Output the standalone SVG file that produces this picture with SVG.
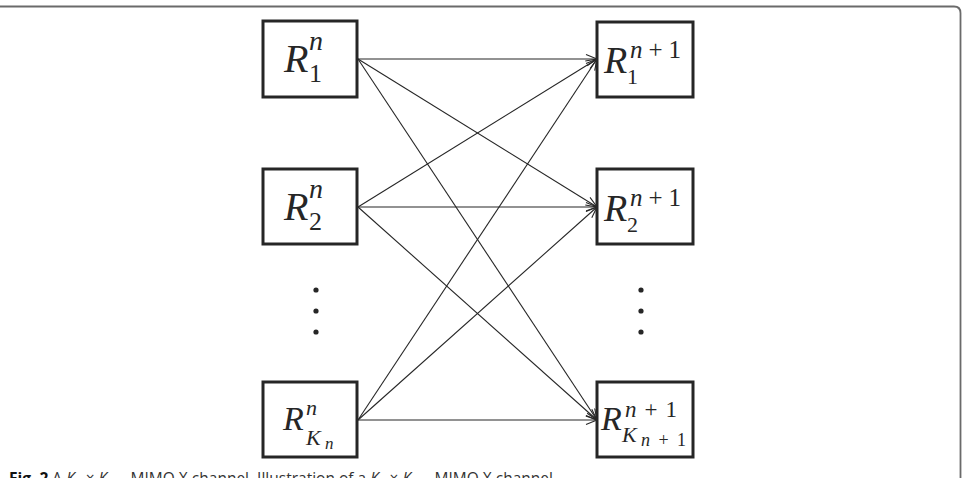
<svg xmlns="http://www.w3.org/2000/svg" width="962" height="478" viewBox="0 0 962 478">
<style>
.box{fill:#fff;stroke:#262626;stroke-width:3}
.m{font-family:"Liberation Serif",serif;font-style:italic;fill:#262626}
.d{font-family:"Liberation Serif",serif;font-style:normal;fill:#262626}
.ln{stroke:#262626;stroke-width:1.1;fill:none;marker-end:url(#ah)}
.cap{font-family:"Open Sans",sans-serif;font-size:15.5px;fill:#333}
</style>
<defs>
<marker id="ah" markerUnits="userSpaceOnUse" markerWidth="14" markerHeight="12" refX="12" refY="5" orient="auto">
<path d="M1,0.5 L12,5 L1,9.5" fill="none" stroke="#262626" stroke-width="1.1"/>
</marker>
</defs>
<path d="M0,6.5 H954 Q960.5,6.5 960.5,13 V478" fill="none" stroke="#6a6a6a" stroke-width="1.8"/>
<g id="connectors">
<line class="ln" x1="358" y1="59" x2="597" y2="59"/>
<line class="ln" x1="358" y1="59" x2="597" y2="207"/>
<line class="ln" x1="358" y1="59" x2="597" y2="420"/>
<line class="ln" x1="358" y1="207" x2="597" y2="59"/>
<line class="ln" x1="358" y1="207" x2="597" y2="207"/>
<line class="ln" x1="358" y1="207" x2="597" y2="420"/>
<line class="ln" x1="358" y1="420" x2="597" y2="59"/>
<line class="ln" x1="358" y1="420" x2="597" y2="207"/>
<line class="ln" x1="358" y1="420" x2="597" y2="420"/>
</g>
<g id="L1">
<rect class="box" x="263" y="21" width="94" height="76"/>
<text class="m" x="284" y="72" font-size="40">R</text>
<text class="m" x="309" y="50" font-size="28">n</text>
<text class="d" x="309" y="82" font-size="26">1</text>
</g>
<g id="L2">
<rect class="box" x="263" y="169" width="94" height="75"/>
<text class="m" x="284" y="220" font-size="40">R</text>
<text class="m" x="309" y="198" font-size="28">n</text>
<text class="d" x="309" y="230" font-size="26">2</text>
</g>
<g id="LK">
<rect class="box" x="263" y="382" width="94" height="75"/>
<text class="m" x="283" y="430" font-size="34">R</text>
<text class="m" x="306" y="415" font-size="22">n</text>
<text class="m" x="306" y="445" font-size="22">K</text>
<text class="m" x="325" y="449" font-size="17">n</text>
</g>
<g id="R1">
<rect class="box" x="597" y="22" width="96" height="75"/>
<text class="m" x="604" y="73" font-size="38">R</text>
<text x="630" y="58" font-size="25" textLength="51" lengthAdjust="spacing"><tspan class="m">n</tspan><tspan class="d">+1</tspan></text>
<text class="d" x="627" y="84" font-size="22">1</text>
</g>
<g id="R2">
<rect class="box" x="597" y="169" width="96" height="75"/>
<text class="m" x="604" y="221" font-size="38">R</text>
<text x="630" y="206" font-size="25" textLength="51" lengthAdjust="spacing"><tspan class="m">n</tspan><tspan class="d">+1</tspan></text>
<text class="d" x="627" y="232" font-size="22">2</text>
</g>
<g id="RK">
<rect class="box" x="597" y="382" width="96" height="75"/>
<text class="m" x="601" y="430" font-size="34">R</text>
<text x="625" y="417" font-size="23" textLength="52" lengthAdjust="spacing"><tspan class="m">n</tspan><tspan class="d">+1</tspan></text>
<text class="m" x="622" y="442" font-size="22">K</text>
<text x="641" y="446" font-size="18" textLength="45" lengthAdjust="spacing"><tspan class="m">n</tspan><tspan class="d">+1</tspan></text>
</g>
<g id="dotsL" fill="#262626">
<circle cx="316" cy="290" r="2.6"/>
<circle cx="316" cy="311" r="2.6"/>
<circle cx="316" cy="332" r="2.6"/>
</g>
<g id="dotsR" fill="#262626">
<circle cx="641" cy="290" r="2.6"/>
<circle cx="641" cy="311" r="2.6"/>
<circle cx="641" cy="332" r="2.6"/>
</g>
<text class="cap" x="9" y="483.5"><tspan font-weight="bold" fill="#111">Fig. 2</tspan> A <tspan font-style="italic">K</tspan><tspan font-size="11" dy="2">n</tspan><tspan dy="-2"> × </tspan><tspan font-style="italic">K</tspan><tspan font-size="11" dy="2">n+1</tspan><tspan dy="-2"> MIMO X channel. Illustration of a </tspan><tspan font-style="italic">K</tspan><tspan font-size="11" dy="2">n</tspan><tspan dy="-2"> × </tspan><tspan font-style="italic">K</tspan><tspan font-size="11" dy="2">n+1</tspan><tspan dy="-2"> MIMO X channel</tspan></text>
</svg>
